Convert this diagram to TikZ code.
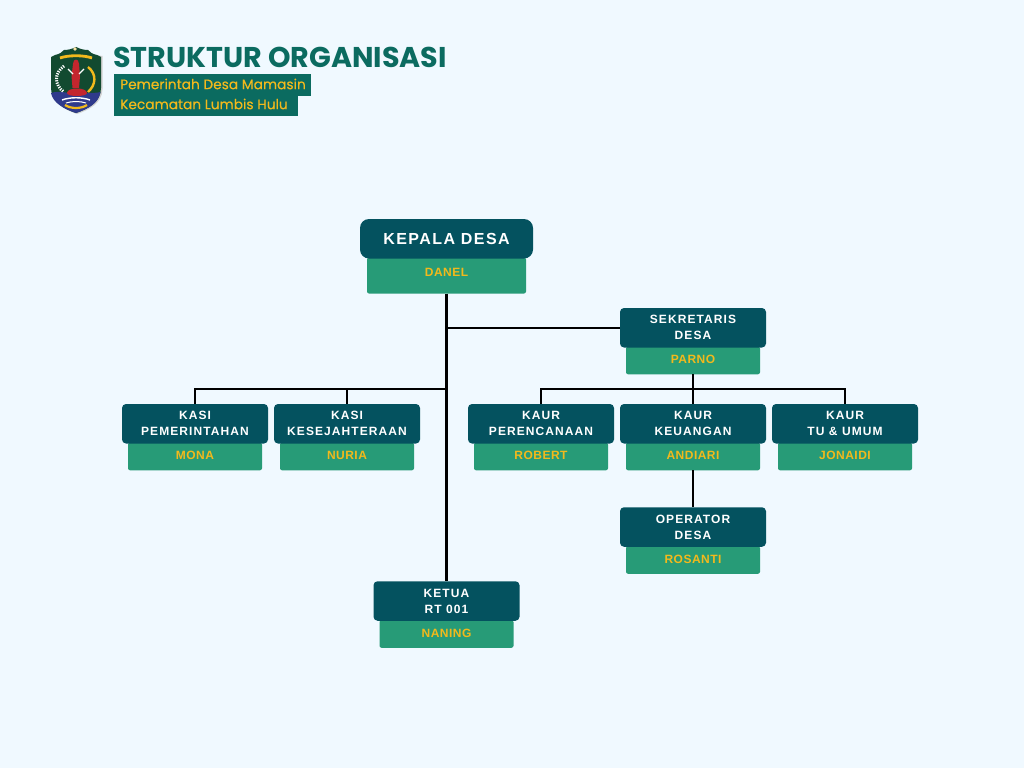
\documentclass[tikz,border=0pt]{standalone}
\usepackage{fontspec}
\usepackage{tikz}
\setmainfont{Liberation Sans}
\newfontfamily\boxfont[LetterSpace=9]{Liberation Sans}
\newfontfamily\namefont[LetterSpace=4]{Liberation Sans}
\newfontfamily\titlefont{Poppins}
\newfontfamily\bandfont[FakeBold=0.35]{Poppins}
\definecolor{bgblue}{HTML}{F0F9FF}
\definecolor{headteal}{HTML}{04525F}
\definecolor{namegreen}{HTML}{279B77}
\definecolor{nameyellow}{HTML}{F2B91C}
\definecolor{titlegreen}{HTML}{0B6B60}
\definecolor{logogreen}{HTML}{124A30}
\definecolor{logoblue}{HTML}{2F3A8C}
\definecolor{logored}{HTML}{C4262E}
\begin{document}
\begin{tikzpicture}[
  x=1pt,y=-1pt,
  hd/.style={rectangle,fill=headteal,rounded corners=4pt,minimum width=146pt,minimum height=39.5pt,inner sep=0pt,align=center,text=white,font=\boxfont\bfseries\fontsize{12}{16}\selectfont},
  nm/.style={rectangle,fill=namegreen,rounded corners=2pt,minimum width=134pt,minimum height=27.5pt,inner sep=0pt,text depth=2pt,text=nameyellow,font=\namefont\bfseries\fontsize{12}{14}\selectfont},
  ln/.style={black,line width=2pt},
  tr/.style={black,line width=3pt},
  band/.style={rectangle,inner sep=0pt,anchor=west,text=nameyellow,font=\bandfont\fontsize{13.75}{16}\selectfont}
]
\useasboundingbox[fill=bgblue] (0,0) rectangle (1024,768);

% Logo
\fill[gray!35] (52.5,56) .. controls (61,55) and (69,52) .. (77,47) .. controls (85,52) and (93,55) .. (102.5,56) -- (102.5,89) .. controls (102.5,103) and (89,110) .. (77,114) .. controls (65,110) and (52.5,103) .. (52.5,89) -- cycle;
\fill[logogreen] (51,57) -- (55,55) .. controls (60,54) and (62,52) .. (64,50) .. controls (68,50) and (72,49) .. (76,47) .. controls (80,49) and (84,50) .. (88,50) .. controls (90,52) and (92,54) .. (97,55) -- (101,57) -- (101,88) .. controls (101,102) and (88,109) .. (76,113) .. controls (64,109) and (51,102) .. (51,88) -- cycle;
\fill[logoblue] (51,93) .. controls (60,90) and (68,94) .. (76,93) .. controls (84,92) and (92,94) .. (100.5,92) .. controls (99,103) and (88,109) .. (76,113) .. controls (64,109) and (53,103) .. (51,93) -- cycle;
\fill[nameyellow!40!white] (75,49) circle (1.8pt);
\draw[nameyellow,line width=2.8pt] (60,58) .. controls (68,55) and (84,55) .. (92,58);
\draw[white,line width=3pt,dash pattern=on 1.2pt off 1.2pt] (64,66) .. controls (54,73) and (54,85) .. (64,92);
\draw[nameyellow,line width=2.4pt] (88,67) .. controls (97,74) and (96,85) .. (88,92);
\fill[logored] (72.5,88) -- (71.5,76) -- (73,64) .. controls (73,58) and (79,58) .. (79,64) -- (80,76) -- (79,88) -- cycle;
\draw[white,line width=1.2pt] (68,69) -- (73,74) (84,69) -- (79,74);
\fill[logored] (67,93) .. controls (67,87) and (87,87) .. (87,93) .. controls (87,97) and (67,97) .. (67,93) -- cycle;
\draw[white,line width=1.4pt] (62,100) .. controls (70,97) and (82,97) .. (90,100);
\draw[white,line width=1pt] (66,103) .. controls (72,101) and (80,101) .. (86,103);
\draw[nameyellow,line width=2.2pt] (65,105) .. controls (71,109) and (81,109) .. (87,105);

% Title
\node[anchor=west,inner sep=0pt,text=titlegreen,font=\titlefont\bfseries\fontsize{28.6}{30}\selectfont] (title) at (113,57) {STRUKTUR ORGANISASI};
\fill[titlegreen] (114,74) rectangle (311,96);
\fill[titlegreen] (114,96) rectangle (298,116);
\node[band] (desa) at (120,84) {Pemerintah Desa Mamasin};
\node[band] (kec) at (120,104) {Kecamatan Lumbis Hulu};

% Kepala desa
\node[nm,minimum width=159pt,minimum height=36pt,text depth=6pt] (danel) at (446.5,275.5) {DANEL};
\node[hd,minimum width=173pt,rounded corners=9pt,font=\boxfont\bfseries\fontsize{16}{18}\selectfont] (kades) at (446.5,238.75) {KEPALA DESA};

% Sekretaris
\node[nm] (parno) at (693,360.5) {PARNO};
\node[hd] (sekdes) at (693,327.75) {SEKRETARIS\\DESA};

% Kasi
\node[nm] (mona) at (195,456.5) {MONA};
\node[hd] (kasipem) at (195,423.75) {KASI\\PEMERINTAHAN};
\node[nm] (nuria) at (347,456.5) {NURIA};
\node[hd] (kasikes) at (347,423.75) {KASI\\KESEJAHTERAAN};

% Kaur
\node[nm] (robert) at (541,456.5) {ROBERT};
\node[hd] (kaurpr) at (541,423.75) {KAUR\\PERENCANAAN};
\node[nm] (andiari) at (693,456.5) {ANDIARI};
\node[hd] (kaurke) at (693,423.75) {KAUR\\KEUANGAN};
\node[nm] (jonaidi) at (845,456.5) {JONAIDI};
\node[hd] (kaurtu) at (845,423.75) {KAUR\\TU \& UMUM};

% Operator
\node[nm] (rosanti) at (693,560) {ROSANTI};
\node[hd] (oper) at (693,527) {OPERATOR\\DESA};

% Ketua RT
\node[nm] (naning) at (446.5,634) {NANING};
\node[hd] (ketua) at (446.5,601) {KETUA\\RT 001};

% Connectors
\coordinate (kasibus) at (446.5,388.5);
\coordinate (kaurbus) at (693,388.5);
\draw[tr] (danel.south) -- (ketua.north);
\draw[ln] (danel.south |- sekdes.west) -- (sekdes.west);
\draw[ln] (kasibus) -| (kasipem.north);
\draw[ln] (kasibus) -| (kasikes.north);
\draw[ln] (parno.south) -- (kaurke.north);
\draw[ln] (kaurbus) -| (kaurpr.north);
\draw[ln] (kaurbus) -| (kaurtu.north);
\draw[ln] (andiari.south) -- (oper.north);
\end{tikzpicture}
\end{document}
